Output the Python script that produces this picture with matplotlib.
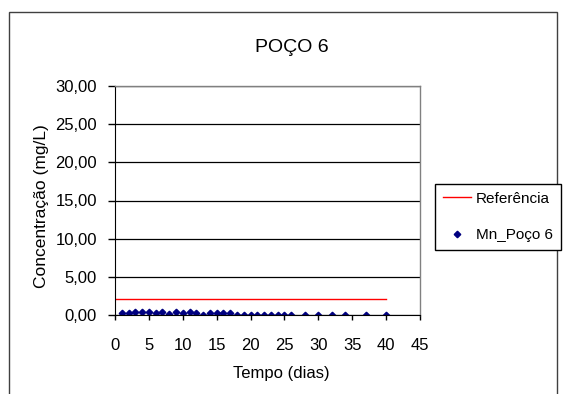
import matplotlib
matplotlib.use("Agg")
import matplotlib.pyplot as plt
from matplotlib.patches import Rectangle
from matplotlib.ticker import FuncFormatter

plt.rcParams["font.family"] = ["Liberation Sans", "DejaVu Sans"]

# -------- Data ----------
dias = [1, 2, 3, 4, 5, 6, 7, 8, 9, 10, 11, 12, 13, 14, 15, 16, 17,
        18, 19, 20, 21, 22, 23, 24, 25, 26, 28, 30, 32, 34, 37, 40]
mn_poco6 = [0.22, 0.22, 0.35, 0.35, 0.35, 0.22, 0.35, 0.10, 0.35, 0.22,
            0.35, 0.22, 0.02, 0.22, 0.22, 0.22, 0.22,
            0.05, 0.05, 0.05, 0.05, 0.05, 0.05, 0.05, 0.05, 0.05,
            0.03, 0.03, 0.03, 0.03, 0.03, 0.03]
ref_dias = [0, 40]
ref_valor = [2.1, 2.1]

xticks = [0, 5, 10, 15, 20, 25, 30, 35, 40, 45]
yticks = [0, 5, 10, 15, 20, 25, 30]

W, H = 569, 394
fig = plt.figure(figsize=(W / 100, H / 100), dpi=100)

# outer chart frame (bottom edge is cut off in the original)
fig.patches.append(Rectangle((9 / W, -0.1), (557 - 9) / W, 1.1 - 12 / H,
                             transform=fig.transFigure, fill=False,
                             edgecolor="#404040", linewidth=1.0))

ax = fig.add_axes([115 / W, 1 - 315 / H, (420 - 115) / W, (315 - 86) / H])

ax.plot(ref_dias, ref_valor, color="#FF0000", linewidth=1.0, label="Referência")
ax.plot(dias, mn_poco6, linestyle="none", marker="D", markersize=3.3,
        color="#000080", label="Mn_Poço 6")

ax.set_xlim(0, 45)
ax.set_ylim(0, 30)
ax.set_xticks(xticks)
ax.set_yticks(yticks)
ax.yaxis.set_major_formatter(FuncFormatter(lambda v, p: f"{v:.2f}".replace(".", ",")))

ax.grid(axis="y", color="black", linewidth=0.9)
ax.set_axisbelow(True)
for side in ["top", "right"]:
    ax.spines[side].set_color("#808080")
    ax.spines[side].set_linewidth(1.0)
ax.spines["left"].set_color("black")
ax.spines["bottom"].set_color("black")

ax.tick_params(axis="y", length=5, width=1, pad=8, labelsize=12)
ax.tick_params(axis="x", length=3.6, width=1, pad=13, labelsize=12)

fig.text(281 / W, 1 - 378 / H, "Tempo (dias)", ha="center", va="baseline",
         fontsize=12)
fig.text(42 / W, 1 - 206 / H, "Concentração (mg/L)", rotation=90,
         ha="center", va="center", fontsize=12.5)

fig.text(292 / W, 1 - 52 / H, "POÇO 6", ha="center", va="baseline", fontsize=14)

leg = fig.legend(loc="upper left", bbox_to_anchor=(435 / W, 1 - 184 / H),
                 bbox_transform=fig.transFigure, borderaxespad=0,
                 fontsize=11, numpoints=1,
                 handlelength=1.85, handletextpad=0.33, labelspacing=1.48,
                 borderpad=0.5, fancybox=False, framealpha=1,
                 edgecolor="black")
leg.get_frame().set_linewidth(1.0)

plt.savefig("out.png", dpi=100)
plt.close()
